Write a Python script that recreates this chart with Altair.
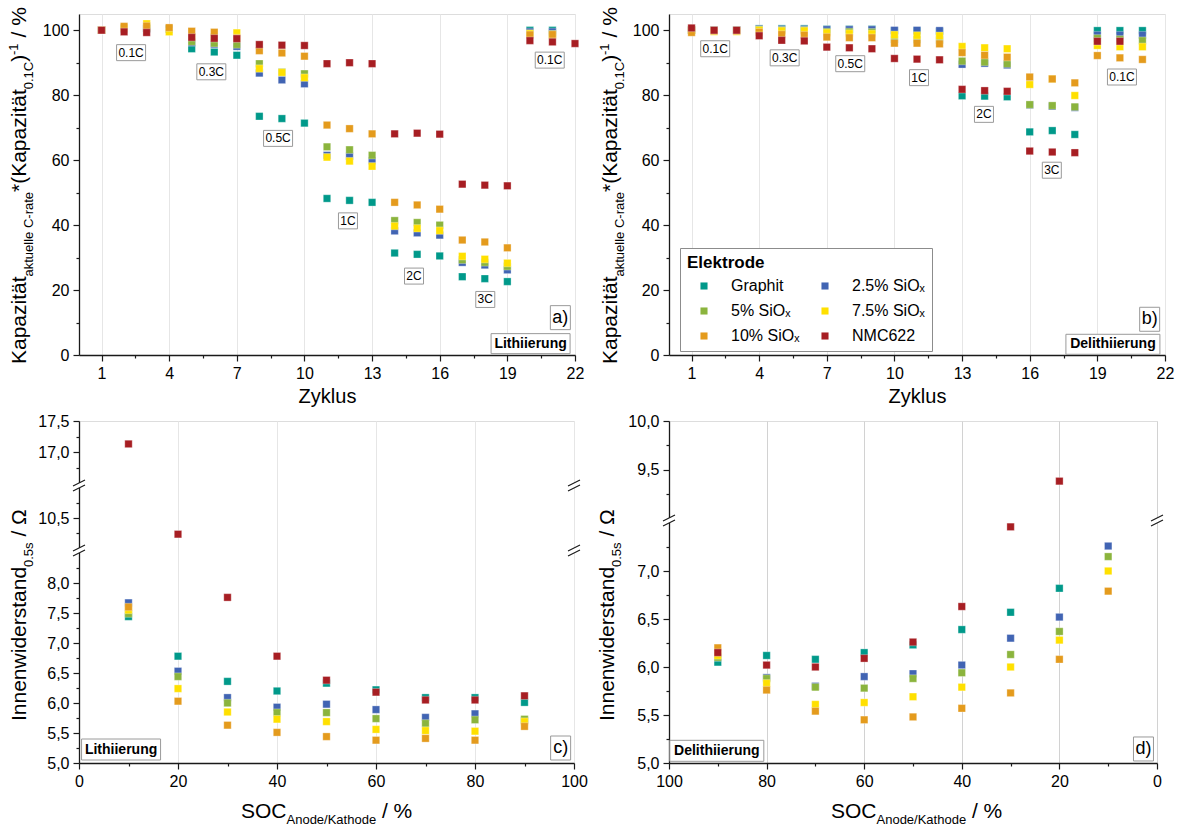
import altair as alt
import pandas as pd

FONT = "Liberation Sans"
INK = "#1a1a1a"

# electrodes (legend order = drawing order) and their colours
ELEKTRODEN = ["Graphit", "2.5% SiOₓ", "5% SiOₓ", "7.5% SiOₓ", "10% SiOₓ", "NMC622"]
FARBEN = ["#00998a", "#4164b3", "#8bb43d", "#ffe000", "#e49b1d", "#a71e23"]

# cycle numbers
zyklen_anode = list(range(1, 22))
zyklen_nmc_lith = [1, 2, 3] + list(range(5, 23))
zyklen_nmc_delith = list(range(1, 21))

# a) capacity retention, lithiation (%)
lith_graphit = [100.0, 100.5, 100.5, 100.3, 94.3, 93.3, 92.3, 73.5, 72.8, 71.4, 48.2, 47.6, 47.0, 31.4, 31.0, 30.5, 24.1, 23.5, 22.6, 100.0, 100.0]
lith_sio25 = [100.0, 100.5, 100.5, 100.3, 96.2, 95.7, 95.0, 86.8, 84.7, 83.5, 61.5, 61.2, 59.8, 38.2, 37.6, 36.9, 28.5, 27.7, 26.2, 99.5, 99.5]
lith_sio5 = [100.0, 100.6, 100.7, 100.5, 96.5, 96.0, 95.6, 89.7, 87.1, 86.6, 64.1, 63.2, 61.5, 41.4, 40.8, 40.0, 29.3, 28.5, 27.3, 98.6, 98.8]
lith_sio75 = [100.0, 100.8, 102.0, 99.5, 98.0, 98.0, 99.2, 88.2, 87.0, 85.4, 60.9, 59.7, 58.1, 39.7, 39.0, 38.3, 30.4, 29.5, 28.3, 99.0, 98.4]
lith_sio10 = [100.0, 101.2, 101.3, 100.8, 99.7, 99.4, 97.6, 93.7, 93.0, 92.0, 70.8, 69.7, 68.1, 47.0, 46.2, 44.9, 35.4, 34.8, 33.0, 98.6, 98.7]
lith_nmc = [100.0, 99.5, 99.3, 97.8, 97.5, 97.4, 95.6, 95.4, 95.3, 89.7, 90.0, 89.7, 68.1, 68.3, 68.0, 52.6, 52.3, 52.1, 96.8, 96.4, 95.9]

# b) capacity retention, delithiation (%)
delith_graphit = [100.0, 100.0, 100.0, 100.5, 100.5, 100.5, 100.3, 100.3, 100.3, 99.8, 99.8, 99.6, 79.8, 79.7, 79.5, 68.7, 69.1, 67.9, 99.9, 99.9, 99.9]
delith_sio25 = [100.0, 100.0, 100.0, 100.4, 100.3, 100.3, 100.2, 100.2, 100.2, 100.0, 100.0, 99.9, 89.5, 89.8, 89.3, 77.0, 76.6, 76.2, 98.5, 98.5, 98.5]
delith_sio5 = [100.0, 100.0, 100.0, 100.2, 100.0, 100.0, 99.5, 99.5, 99.4, 97.2, 97.1, 97.0, 90.5, 90.2, 89.7, 77.1, 76.8, 76.4, 97.5, 97.2, 96.8]
delith_sio75 = [100.0, 99.6, 99.6, 100.0, 99.8, 99.8, 99.2, 99.0, 98.9, 98.6, 98.4, 98.3, 95.0, 94.6, 94.3, 83.3, 85.0, 79.9, 95.3, 94.9, 94.9]
delith_sio10 = [99.3, 99.8, 99.8, 99.4, 98.7, 98.5, 97.9, 97.7, 97.7, 96.0, 96.0, 95.8, 93.1, 92.3, 91.7, 85.6, 85.0, 83.8, 92.2, 91.5, 91.0]
delith_nmc = [100.7, 100.0, 100.0, 98.3, 96.9, 96.7, 94.8, 94.6, 94.3, 91.3, 91.1, 90.9, 81.8, 81.4, 81.2, 62.8, 62.5, 62.3, 96.6, 96.6]

# c) internal resistance after 0.5 s, lithiation (Ohm)
soc_c = [10, 20, 30, 40, 50, 60, 70, 80, 90]
r_lith_graphit = [7.44, 6.78, 6.36, 6.20, 6.33, 6.22, 6.09, 6.09, 6.01]
r_lith_sio25 = [7.67, 6.53, 6.09, 5.93, 5.98, 5.89, 5.76, 5.82, 5.71]
r_lith_sio5 = [7.49, 6.44, 6.00, 5.84, 5.84, 5.74, 5.66, 5.72, 5.73]
r_lith_sio75 = [7.55, 6.24, 5.85, 5.73, 5.69, 5.56, 5.54, 5.53, 5.69]
r_lith_sio10 = [7.60, 6.03, 5.63, 5.51, 5.44, 5.38, 5.41, 5.38, 5.61]
r_lith_nmc = [17.13, 10.23, 7.76, 6.78, 6.38, 6.18, 6.05, 6.05, 6.12]

# d) internal resistance after 0.5 s, delithiation (Ohm)
soc_d = [90, 80, 70, 60, 50, 40, 30, 20, 10]
soc_d_kurz = [90, 80, 70, 60, 50, 40, 30, 20]
r_delith_graphit = [6.05, 6.12, 6.08, 6.15, 6.23, 6.39, 6.57, 6.82]
r_delith_sio25 = [6.10, 5.89, 5.80, 5.90, 5.93, 6.02, 6.30, 6.52, 7.26]
r_delith_sio5 = [6.10, 5.88, 5.79, 5.78, 5.88, 5.94, 6.13, 6.37, 7.15]
r_delith_sio75 = [6.12, 5.83, 5.61, 5.63, 5.69, 5.79, 6.00, 6.28, 7.00]
r_delith_sio10 = [6.20, 5.76, 5.54, 5.45, 5.48, 5.57, 5.73, 6.08, 6.79]
r_delith_nmc = [6.15, 6.02, 6.00, 6.09, 6.26, 6.63, 7.46, 9.38]

# C-rate annotations
crate_a = ["0.1C", "0.3C", "0.5C", "1C", "2C", "3C", "0.1C"]
crate_a_x = [2.31, 5.87, 8.83, 11.93, 14.86, 18.02, 20.88]
crate_a_y = [93.1, 87.2, 66.7, 41.3, 24.3, 17.1, 90.8]
crate_b = ["0.1C", "0.3C", "0.5C", "1C", "2C", "3C", "0.1C"]
crate_b_x = [2.05, 5.13, 8.04, 11.09, 13.97, 16.98, 20.09]
crate_b_y = [94.3, 91.5, 89.7, 85.4, 74.1, 56.9, 85.6]


def long_table(xname, yname, xs_list, ys_list):
    rows = []
    for name, xs, ys in zip(ELEKTRODEN, xs_list, ys_list):
        for x, y in zip(xs, ys):
            rows.append({xname: x, yname: y, "Elektrode": name})
    return pd.DataFrame(rows)


df_a = long_table("Zyklus", "Kap", [zyklen_anode] * 5 + [zyklen_nmc_lith],
                  [lith_graphit, lith_sio25, lith_sio5, lith_sio75, lith_sio10, lith_nmc])
df_b = long_table("Zyklus", "Kap", [zyklen_anode] * 5 + [zyklen_nmc_delith],
                  [delith_graphit, delith_sio25, delith_sio5, delith_sio75, delith_sio10, delith_nmc])
df_c = long_table("SOC", "R", [soc_c] * 6,
                  [r_lith_graphit, r_lith_sio25, r_lith_sio5, r_lith_sio75, r_lith_sio10, r_lith_nmc])
df_d = long_table("SOC", "R", [soc_d_kurz, soc_d, soc_d, soc_d, soc_d, soc_d_kurz],
                  [r_delith_graphit, r_delith_sio25, r_delith_sio5, r_delith_sio75, r_delith_sio10, r_delith_nmc])

farbskala = alt.Scale(domain=ELEKTRODEN, range=FARBEN)
legende = alt.Legend(
    orient="none", legendX=601, legendY=234, direction="horizontal", columns=2,
    title="Elektrode", titleFont=FONT, titleFontSize=17, titleFontWeight="bold", titleColor="black",
    titlePadding=6, labelFont=FONT, labelFontSize=16, labelColor="black", labelLimit=300,
    symbolType="square", symbolSize=50, symbolStrokeWidth=0, symbolOpacity=1,
    fillColor="white", strokeColor="#8c8c8c", padding=7, rowPadding=9, columnPadding=8,
    labelOffset=19, symbolOffset=9,
)


def achse(values, major, label_expr, grid=False, grid_color="#e6e6e6", title=None):
    args = dict(
        values=values, labelExpr=label_expr, labelOverlap=False, labelFlush=False,
        tickSize={"condition": {"test": major, "value": 6}, "value": 3},
        tickColor=INK, tickWidth=1.2, domainColor=INK, domainWidth=1.3,
        labelFont=FONT, labelFontSize=16, labelColor="black", labelPadding=4, grid=grid,
    )
    if grid:
        args.update(gridColor=grid_color, gridWidth=1,
                    gridOpacity={"condition": {"test": major, "value": 1}, "value": 0})
    if title is not None:
        args.update(title=title, titleFont=FONT, titleFontSize=20, titleFontWeight="normal",
                    titleColor="black", titlePadding=5)
    return alt.Axis(**args)


def textstueck(t, x, y, size, angle=0, weight="normal"):
    return alt.Chart(pd.DataFrame({"t": [t]})).mark_text(
        font=FONT, fontSize=size, angle=angle, align="left", baseline="middle",
        color="black", fontWeight=weight,
    ).encode(x=alt.value(x), y=alt.value(y), text="t:N")


def punkte(df, enc):
    return alt.Chart(df).mark_square(
        size=55, opacity=1, stroke="white", strokeWidth=0.5, strokeOpacity=0.6
    ).encode(**enc, color=alt.Color("Elektrode:N", scale=farbskala, legend=legende))


def beschriftung(df, enc, w, h, size, weight="normal"):
    box = alt.Chart(df).mark_rect(width=w, height=h, color="white", stroke="#9a9a9a", strokeWidth=1).encode(**enc)
    txt = alt.Chart(df).mark_text(font=FONT, fontSize=size, fontWeight=weight, color="black",
                                  align="center", baseline="middle").encode(**enc, text="label:N")
    return [box, txt]


def bruch(df, enc2):
    cover = alt.Chart(df).mark_rect(width=12, height=5, color="white").encode(**{k: v for k, v in enc2.items() if k in ("x", "y")})
    oben = alt.Chart(df).mark_rule(color=INK, strokeWidth=1.2, xOffset=-6, x2Offset=6,
                                   yOffset=0.5, y2Offset=-5.5).encode(**enc2)
    unten = alt.Chart(df).mark_rule(color=INK, strokeWidth=1.2, xOffset=-6, x2Offset=6,
                                    yOffset=5.5, y2Offset=-0.5).encode(**enc2)
    return [cover, oben, unten]


# ---------- capacity panels ----------
zyk_werte = [1 + 1.5 * i for i in range(15)]
zyk_major = "(datum.value - 1) % 3 === 0"
kap_werte = list(range(0, 101, 10))
kap_major = "datum.value % 20 === 0"


def kapazitaet_panel(df, crates, cx, cy, ecke, modus, w_modus, title_x):
    xs = alt.Scale(domain=[0, 22], nice=False, zero=False)
    ys = alt.Scale(domain=[0, 105], nice=False, zero=False)
    xa = achse(zyk_werte, zyk_major, zyk_major + " ? format(datum.value, 'd') : ''",
               grid=True, title="Zyklus")
    ya = achse(kap_werte, kap_major, kap_major + " ? format(datum.value, 'd') : ''")
    enc = dict(x=alt.X("Zyklus:Q", scale=xs, axis=xa, title="Zyklus"),
               y=alt.Y("Kap:Q", scale=ys, axis=ya, title=None))

    lang = pd.DataFrame({"Zyklus": [x for l, x in zip(crates, cx) if "." in l],
                         "Kap": [y for l, y in zip(crates, cy) if "." in l],
                         "label": [l for l in crates if "." in l]})
    kurz = pd.DataFrame({"Zyklus": [x for l, x in zip(crates, cx) if "." not in l],
                         "Kap": [y for l, y in zip(crates, cy) if "." not in l],
                         "label": [l for l in crates if "." not in l]})
    ecke_df = pd.DataFrame({"Zyklus": [ecke[1]], "Kap": [ecke[2]], "label": [ecke[0]]})
    modus_df = pd.DataFrame({"Zyklus": [modus[1]], "Kap": [modus[2]], "label": [modus[0]]})

    layers = [punkte(df, enc)]
    layers += beschriftung(lang, enc, 29, 16, 12)
    layers += beschriftung(kurz, enc, 19, 16, 12)
    layers += beschriftung(ecke_df, enc, 20, 24, 18)
    layers += beschriftung(modus_df, enc, w_modus, 20, 14, "bold")

    mx = title_x
    layers += [
        textstueck("Kapazität", mx, 350, 21, 270),
        textstueck("aktuelle C-rate", mx + 9, 262.5, 13, 270),
        textstueck("*(Kapazität", mx, 178, 21, 270),
        textstueck("0.1C", mx + 9, 75.3, 13, 270),
        textstueck(")", mx, 47.8, 21, 270),
        textstueck("-1", mx - 6, 41, 13, 270),
        textstueck("/ %", mx, 23.4, 21, 270),
    ]
    return alt.layer(*layers).properties(width=496, height=341)


panel_a = kapazitaet_panel(df_a, crate_a, crate_a_x, crate_a_y,
                           ("a)", 21.35, 11.5), ("Lithiierung", 20.03, 3.5), 79, -59)
panel_b = kapazitaet_panel(df_b, crate_b, crate_b_x, crate_b_y,
                           ("b)", 21.32, 11.0), ("Delithiierung", 19.69, 3.3), 94, -58)

# ---------- resistance panels (broken y axis) ----------
soc_werte = list(range(0, 101, 10))
soc_major = "datum.value % 20 === 0"
r_major = "datum.value % 0.5 === 0"
r_label = r_major + " ? replace(format(datum.value, '.1f'), '.', ',') : ''"


def widerstand_panel(df, width, reverse, ydom, yrange, ywerte, grid_color, bruch_y,
                     ecke, modus, w_modus, title_x):
    xs = alt.Scale(domain=[0, 100], nice=False, zero=False, reverse=reverse)
    ys = alt.Scale(domain=ydom, range=yrange, nice=False, zero=False)
    xa = achse(soc_werte, soc_major, soc_major + " ? format(datum.value, 'd') : ''",
               grid=True, grid_color=grid_color)
    ya = achse(ywerte, r_major, r_label)
    enc = dict(x=alt.X("SOC:Q", scale=xs, axis=xa, title=None),
               y=alt.Y("R:Q", scale=ys, axis=ya, title=None))
    enc2 = dict(enc, x2=alt.X2("SOC"), y2=alt.Y2("R"))

    bruch_df = pd.DataFrame({"SOC": [0, 100] * len(bruch_y),
                             "R": [v for v in bruch_y for _ in range(2)]})
    ecke_df = pd.DataFrame({"SOC": [ecke[1]], "R": [ecke[2]], "label": [ecke[0]]})
    modus_df = pd.DataFrame({"SOC": [modus[1]], "R": [modus[2]], "label": [modus[0]]})

    layers = [punkte(df, enc)]
    layers += bruch(bruch_df, enc2)
    layers += beschriftung(ecke_df, enc, 20, 24, 18)
    layers += beschriftung(modus_df, enc, w_modus, 21, 14, "bold")
    mx = title_x
    layers += [
        textstueck("Innenwiderstand", mx, 300, 21, 270),
        textstueck("0.5s", mx + 9, 146, 13, 270),
        textstueck("/ Ω", mx, 115.6, 21, 270),
        textstueck("SOC", 162, 391, 21),
        textstueck("Anode/Kathode", 207.5, 399, 13),
        textstueck("/ %", 302.9, 391, 21),
    ]
    return alt.layer(*layers).properties(width=width, height=342)


c_werte = [5 + 0.25 * i for i in range(14)] + [10.25, 10.5, 10.75, 16.75, 17.0, 17.25, 17.5]
d_werte = [5 + 0.25 * i for i in range(10)] + [9.25, 9.5, 9.75, 10.0]

panel_c = widerstand_panel(
    df_c, 495, False, [5, 8.5, 10, 11, 16.5, 17.5], [342, 132, 127, 67, 62, 0], c_werte,
    "#e6e6e6", [9.25, 13.75], ("c)", 97.3, 5.25), ("Lithiierung", 8.5, 5.225), 79, -59)
panel_d = widerstand_panel(
    df_d, 488, True, [5, 7.5, 9, 10], [342, 102, 97, 0], d_werte,
    "#d2d2d2", [8.25], ("d)", 2.77, 5.146), ("Delithiierung", 90.2, 5.127), 94, -61)

chart = alt.concat(
    panel_a, panel_b, panel_c, panel_d,
    columns=2, spacing={"row": 66, "column": 94}, bounds="flush",
).resolve_scale(
    x="independent", y="independent", color="shared"
).properties(
    padding={"left": 7, "top": 6, "right": 0, "bottom": 0}, background="white"
).configure_view(
    stroke=INK, strokeWidth=1.3
).configure(font=FONT)

chart.save("out.html", embed_options={"renderer": "svg", "actions": False})
